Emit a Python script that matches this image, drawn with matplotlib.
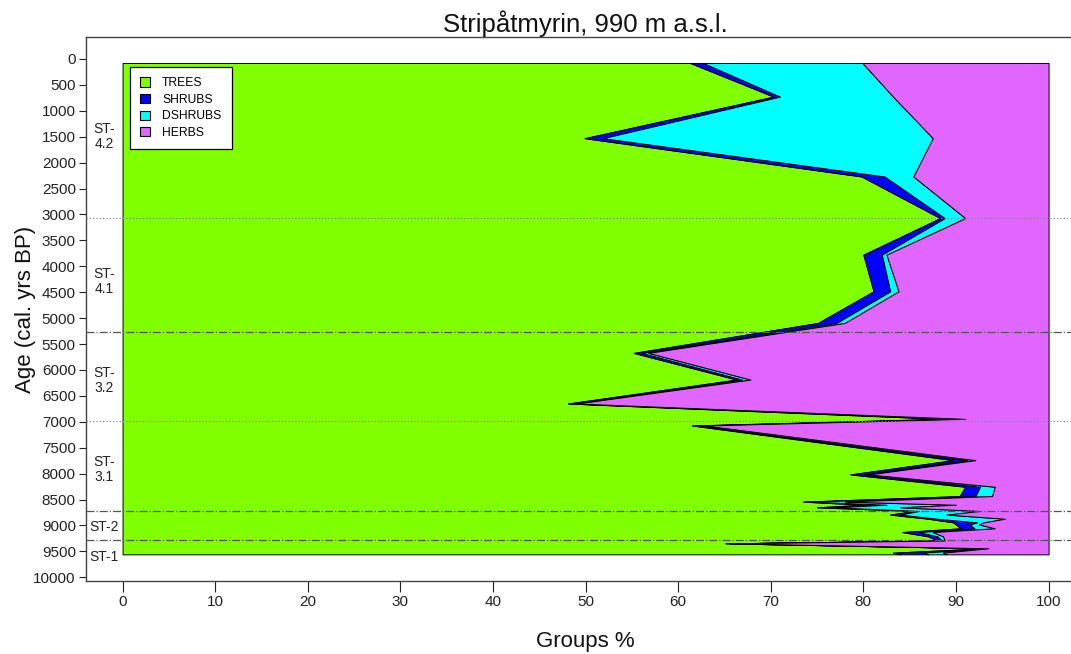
import matplotlib
matplotlib.use("Agg")
import matplotlib.pyplot as plt
from matplotlib.patches import Patch
import numpy as np

plt.rcParams['font.family'] = ['Liberation Sans', 'DejaVu Sans']

title = "Stripåtmyrin, 990 m a.s.l."
group_names = ["TREES", "SHRUBS", "DSHRUBS", "HERBS"]
group_colors = ["#80FF00", "#0000FF", "#00FFFF", "#E066FF"]

# sample ages (cal. yrs BP)
ages = [77, 726, 1528, 2267, 3070, 3776, 4483, 5093, 5671, 6185, 6647, 6943,
        7071, 7740, 8015, 8253, 8433, 8540, 8600, 8650, 8720, 8790, 8870,
        8940, 8980, 9055, 9127, 9210, 9290, 9345, 9440, 9525, 9557]
# percentages per group
trees = [61.3, 70.3, 49.9, 79.8, 88.3, 80.0, 81.1, 75.1, 55.2, 66.3, 48.1, 88.5,
         61.5, 89.7, 78.6, 91.0, 90.4, 73.5, 80.0, 75.0, 85.5, 82.9, 87.0,
         89.7, 90.0, 90.5, 84.2, 87.0, 88.0, 65.1, 93.0, 83.2, 84.0]
shrubs = [1.4, 0.7, 2.0, 2.5, 0.5, 2.0, 1.8, 2.0, 0.9, 0.6, 0.6, 1.2,
          0.8, 1.5, 1.5, 1.6, 1.7, 1.0, 2.5, 2.0, 0.5, 1.1, 1.0,
          2.6, 1.5, 1.5, 1.8, 1.0, 0.5, 0.4, 0.3, 3.3, 3.0]
dshrubs = [17.2, 12.2, 35.6, 3.1, 2.2, 0.5, 0.9, 0.9, 0.7, 0.9, 0.4, 1.3,
           0.6, 0.9, 0.5, 1.6, 1.8, 3.5, 7.5, 7.0, 6.6, 5.0, 7.3,
           0.7, 1.0, 2.2, 1.5, 0.6, 0.3, 0.3, 0.2, 2.1, 2.0]

zone_bounds = [3063, 5260, 6975, 8719, 9277]
zone_styles = ["dotted", "dashdot", "dotted", "dashdot", "dashdot"]
zone_labels = ["ST-\n4.2", "ST-\n4.1", "ST-\n3.2", "ST-\n3.1", "ST-2", "ST-1"]
zone_label_ages = [1500, 4300, 6200, 7920, 9020, 9615]

yticks = list(range(0, 10001, 500))
xticks = list(range(0, 101, 10))

W, H = 1071, 654
fig = plt.figure(figsize=(W / 100, H / 100), dpi=100)
ax_left = 85.5 / W
ax_right = 1085.6 / W
ax_top = 1 - 37 / H
ax_bottom = 1 - 581.3 / H
ax = fig.add_axes([ax_left, ax_bottom, ax_right - ax_left, ax_top - ax_bottom])

a = np.array(ages)
c1 = np.array(trees)
c2 = c1 + np.array(shrubs)
c3 = c2 + np.array(dshrubs)
c0 = np.zeros_like(c1)
c4 = np.full_like(c1, 100.0)
bounds = [c0, c1, c2, c3, c4]
for i, col in enumerate(group_colors):
    ax.fill_betweenx(a, bounds[i], bounds[i + 1], facecolor=col,
                     edgecolor="black", linewidth=0.7, zorder=2)

for yb, ls in zip(zone_bounds, zone_styles):
    ax.axhline(yb, color="#555555" if ls == "dashdot" else "#888888",
               linestyle=ls, linewidth=0.9, zorder=3)

for lab, ya in zip(zone_labels, zone_label_ages):
    ax.text(-2.0, ya, lab, ha="center", va="center", fontsize=10,
            color="#222222", linespacing=1.1, zorder=4)

ax.set_xlim(-4, 104)
ax.set_ylim(10077, -424)
ax.set_yticks(yticks)
ax.set_yticklabels([str(t) for t in yticks])
ax.set_xticks(xticks)
ax.set_xticklabels([str(t) for t in xticks])
ax.tick_params(axis="y", direction="out", length=5, width=0.8, pad=2,
               labelsize=11, colors="#222222")
ax.tick_params(axis="x", direction="out", length=8, width=0.8, pad=2,
               labelsize=11, colors="#222222")
for s in ax.spines.values():
    s.set_color("#444444")
    s.set_linewidth(1.0)

ax.set_title(title, fontsize=18.5, pad=3, color="#111111")
ax.set_xlabel("Groups %", fontsize=16, labelpad=16, color="#111111")
ax.set_ylabel("Age (cal. yrs BP)", fontsize=16, labelpad=-2, color="#111111")

handles = [Patch(facecolor=c, edgecolor="black", linewidth=0.8) for c in group_colors]
leg = ax.legend(handles, group_names, loc="upper left",
                bbox_to_anchor=((130 - 85.5) / 1000.1, (581.3 - 67) / 544.3),
                borderaxespad=0, fontsize=8.7, handlelength=0.8, handleheight=0.8,
                handletextpad=1.0, labelspacing=0.38, borderpad=0.85,
                fancybox=False, framealpha=1, edgecolor="black")
leg.get_frame().set_linewidth(0.9)
leg.set_zorder(5)

fig.savefig("out.png", dpi=100)
